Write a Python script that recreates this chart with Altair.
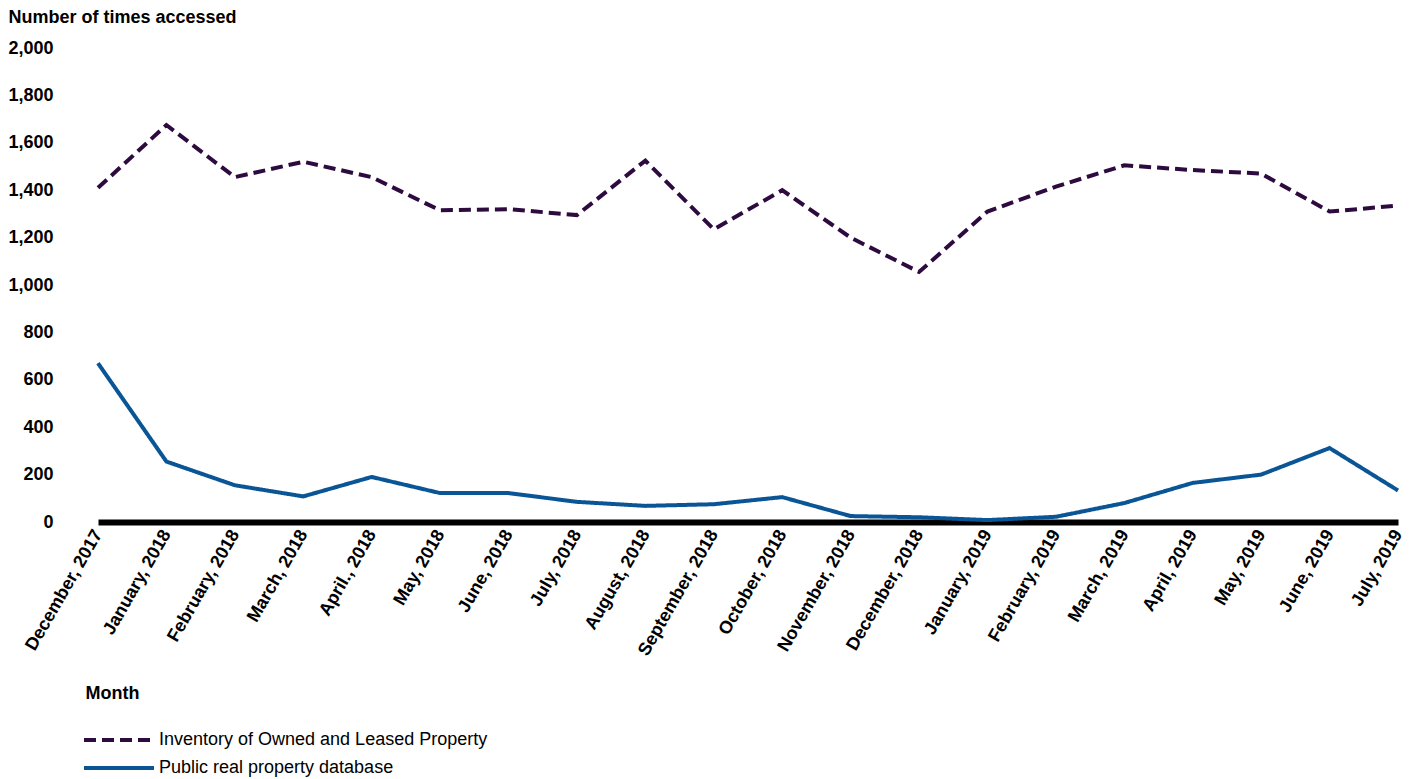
import altair as alt
import pandas as pd

months = ["December, 2017", "January, 2018", "February, 2018", "March, 2018", "April., 2018",
          "May, 2018", "June, 2018", "July, 2018", "August, 2018", "September, 2018",
          "October, 2018", "November, 2018", "December, 2018", "January, 2019", "February, 2019",
          "March, 2019", "April, 2019", "May, 2019", "June, 2019", "July, 2019"]
inventory = [1410, 1675, 1455, 1520, 1455, 1315, 1320, 1295, 1525, 1235,
             1400, 1200, 1055, 1310, 1415, 1505, 1485, 1470, 1310, 1335]
public_db = [670, 255, 155, 108, 190, 122, 122, 85, 68, 75,
             105, 25, 20, 8, 22, 80, 165, 200, 312, 133]
series_names = ["Inventory of Owned and Leased Property", "Public real property database"]
series_colors = ["#2E0B3F", "#0A5596"]

rows = []
for i, m in enumerate(months):
    rows.append({"Month": m, "Series": series_names[0], "Value": inventory[i], "order": i})
    rows.append({"Month": m, "Series": series_names[1], "Value": public_db[i], "order": i})
df = pd.DataFrame(rows)

FONT = "Liberation Sans"

chart = alt.Chart(df).mark_line(strokeWidth=4).encode(
    x=alt.X("Month:O", sort=months,
            scale=alt.Scale(type="point", padding=0),
            axis=alt.Axis(title="Month", labelAngle=-60, labelFontSize=18, labelFontWeight="bold",
                          labelFont=FONT, labelColor="black", labelPadding=9,
                          ticks=False, grid=False, domainColor="black", domainWidth=6,
                          titleFont=FONT, titleFontSize=18, titleFontWeight="bold", titleColor="black",
                          titleAlign="left", titleAnchor="start", titleX=-13, titleY=171,
                          titleBaseline="middle", labelOverlap=False, labelLimit=300)),
    y=alt.Y("Value:Q", scale=alt.Scale(domain=[0, 2000]),
            axis=alt.Axis(title="Number of times accessed", values=list(range(0, 2001, 200)),
                          format=",.0f", labelFontSize=18, labelFontWeight="bold", labelFont=FONT,
                          labelColor="black", labelPadding=45, ticks=False, domain=False, grid=False,
                          titleFont=FONT, titleFontSize=18, titleFontWeight="bold", titleColor="black",
                          titleAngle=0, titleAlign="left", titleAnchor="start",
                          titleX=-90, titleY=-31, titleBaseline="middle")),
    color=alt.Color("Series:N", sort=series_names,
                    scale=alt.Scale(domain=series_names, range=series_colors),
                    legend=alt.Legend(title=None, orient="none", legendX=-16, legendY=681,
                                      direction="vertical", symbolType="stroke", symbolSize=4900,
                                      symbolStrokeWidth=4, clipHeight=22, rowPadding=6,
                                      labelFont=FONT, labelFontSize=18, labelColor="black",
                                      labelOffset=3, padding=0, labelLimit=600)),
    strokeDash=alt.StrokeDash("Series:N", sort=series_names,
                              scale=alt.Scale(domain=series_names, range=[[12, 6], [1, 0]]),
                              legend=None),
    order="order:Q",
).properties(
    width=1300, height=474,
    autosize=alt.AutoSizeParams(type="none"),
    padding={"left": 90, "top": 40, "right": 10, "bottom": 257},
).configure_view(stroke=None)

chart.save("out.html", embed_options={"renderer": "svg", "actions": False})
